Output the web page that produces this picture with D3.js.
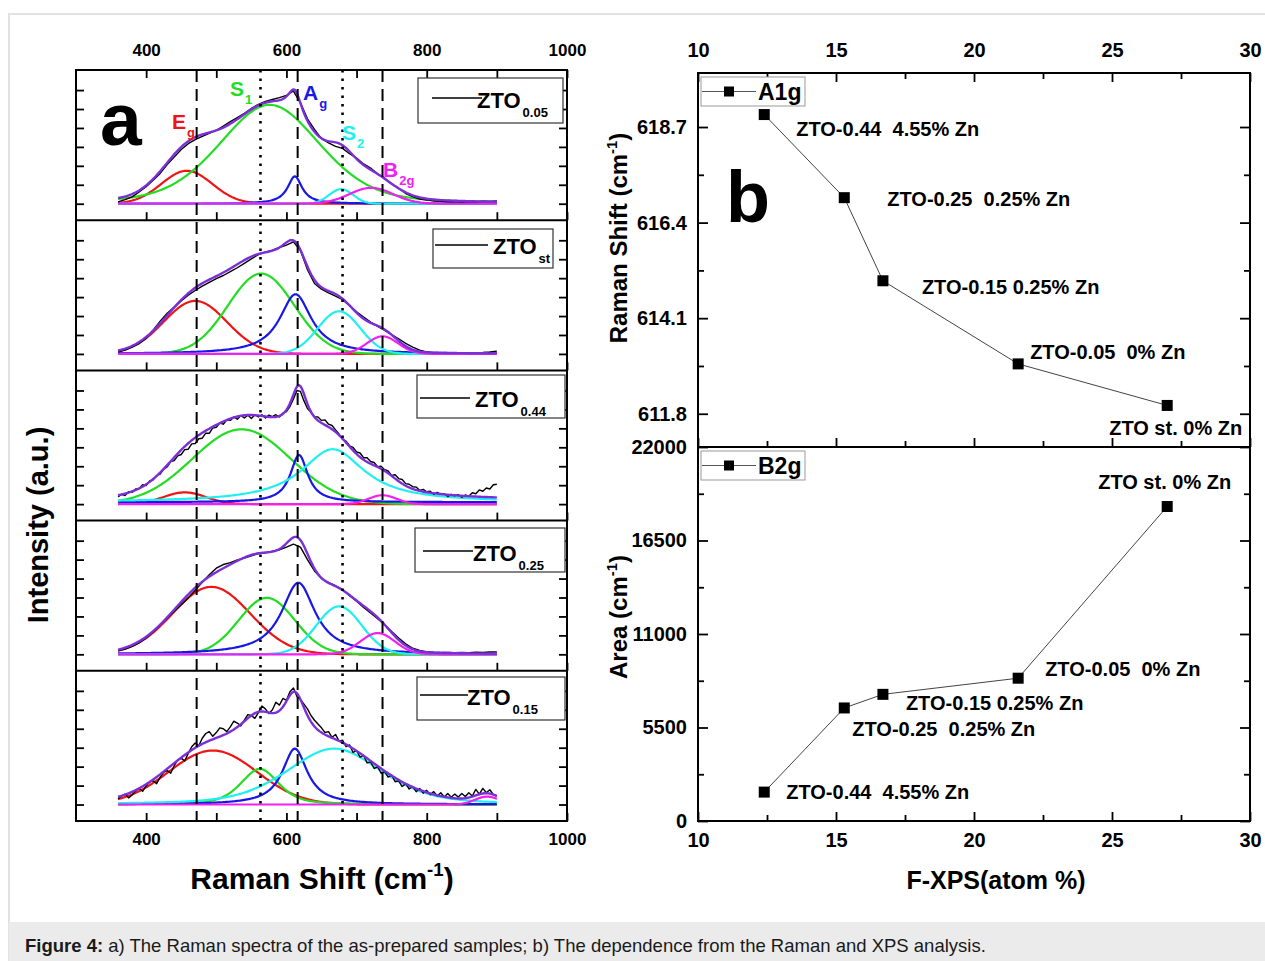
<!DOCTYPE html>
<html>
<head>
<meta charset="utf-8">
<script src="https://cdn.jsdelivr.net/npm/d3@7"></script>
<style>
  html, body { margin: 0; padding: 0; background: #fff; }
  svg { display: block; }
  text { white-space: pre; }
</style>
</head>
<body>
<svg id="fig" width="1265" height="961"></svg>
<script>
// ---------------- Panel a: Raman spectra ----------------
const samples = ["0.05", "st", "0.44", "0.25", "0.15"];
const modeNames = ["E", "S", "A", "S", "B"];
const modeSubs = ["g", "1", "g", "2", "2g"];

// measured spectra from 360 cm-1 (a.u.); sampling step per spectrum in cm-1
const shiftStart = 360;
const spectrumStep = [10, 10, 5, 10, 5];
const spectrum005 = [0.10,0.22,0.36,0.62,0.90,1.24,1.60,2.07,2.46,2.86,3.17,3.38,3.56,3.71,3.88,4.10,4.33,4.55,4.77,5.03,5.25,5.40,5.50,5.60,5.72,5.95,5.33,4.48,3.92,3.44,3.21,3.03,2.92,2.64,2.41,2.10,1.88,1.58,1.35,1.04,0.82,0.54,0.38,0.25,0.20,0.14,0.13,0.10,0.11,0.09,0.12,0.10,0.13,0.12,0.15];
const spectrumSt  = [0.10,0.20,0.36,0.55,0.82,1.25,1.73,2.15,2.47,2.80,3.10,3.35,3.58,3.78,3.98,4.14,4.34,4.55,4.78,5.02,5.24,5.37,5.48,5.62,5.74,5.92,5.46,4.45,3.72,3.42,3.22,3.05,2.86,2.55,2.22,1.95,1.68,1.45,1.24,1.02,0.80,0.56,0.36,0.20,0.11,0.07,0.05,0.06,0.04,0.06,0.05,0.07,0.08,0.10,0.15];
const spectrum044 = [0.38,0.52,0.45,0.66,0.62,0.80,0.82,1.02,0.98,1.22,1.28,1.52,1.58,1.85,1.96,2.25,2.30,2.55,2.62,2.88,2.90,3.18,3.20,3.45,3.48,3.75,3.74,4.02,4.05,4.28,4.22,4.45,4.42,4.60,4.48,4.68,4.55,4.70,4.52,4.72,4.60,4.72,4.55,4.70,4.62,4.72,4.60,4.80,4.88,5.15,5.55,6.00,5.95,5.45,5.05,4.85,4.62,4.60,4.42,4.45,4.22,4.15,3.92,3.70,3.42,3.32,3.08,3.00,2.75,2.70,2.45,2.45,2.25,2.20,1.98,2.00,1.82,1.75,1.52,1.55,1.35,1.30,1.08,1.05,0.92,0.90,0.72,0.78,0.65,0.68,0.52,0.62,0.52,0.55,0.40,0.52,0.44,0.50,0.36,0.48,0.42,0.60,0.55,0.75,0.68,0.85,0.80,1.02,1.05];
const spectrum025 = [0.18,0.28,0.42,0.60,0.86,1.18,1.55,1.90,2.28,2.62,2.98,3.38,3.80,4.20,4.55,4.74,4.84,4.98,5.08,5.20,5.32,5.36,5.44,5.52,5.66,5.82,5.66,5.00,4.40,4.00,3.78,3.62,3.42,3.10,2.80,2.48,2.18,1.88,1.56,1.20,0.86,0.55,0.32,0.20,0.13,0.10,0.09,0.10,0.08,0.10,0.09,0.11,0.10,0.12,0.13];
const spectrum015 = [0.30,0.45,0.55,0.35,0.50,0.72,0.85,0.70,0.98,1.20,1.25,1.10,1.45,1.70,1.80,1.65,2.05,2.35,2.45,2.30,2.70,3.05,3.25,3.10,3.50,3.75,3.85,3.60,3.80,4.05,4.00,3.85,4.10,4.40,4.30,4.15,4.45,4.75,4.70,4.55,4.85,5.20,5.05,4.80,5.00,5.40,5.25,5.60,5.50,5.95,6.15,5.70,5.55,5.30,5.05,4.70,4.45,4.25,4.05,3.80,3.85,3.55,3.70,3.35,3.40,3.05,3.15,2.75,2.85,2.50,2.60,2.20,2.25,1.90,2.00,1.65,1.75,1.45,1.55,1.20,1.25,0.95,1.10,0.82,0.95,0.68,0.85,0.60,0.75,0.52,0.68,0.45,0.62,0.40,0.58,0.38,0.55,0.40,0.58,0.42,0.62,0.45,0.80,0.55,0.85,0.62,0.78,0.52,0.45];
const spectra = [spectrum005, spectrumSt, spectrum044, spectrum025, spectrum015];

// fitted modes per sample: Eg, S1, Ag, S2, B2g
const peakCenter  = [[458,576,612,678,721],[470,564,613,675,737],[455,536,618,666,737],[493,572,617,675,730],[495,562,612,668,886]];
const peakFwhm    = [[85,170,25,40,73],[106,111,55,71,52],[71,165,30,110,47],[130,94,58,76,58],[148,64,43,160,40]];
const peakHeight  = [[1.74,5.22,1.45,0.77,0.84],[2.8,4.24,3.15,2.25,0.93],[0.62,3.95,2.5,2.8,0.47],[3.56,2.98,3.78,2.53,1.12],[2.85,1.88,2.95,2.95,0.42]];
const peakLorentz = [[0,0.3,1,0,0],[0,0,1,0,0],[0,0,1,1,0],[0,0,1,0,0],[0,0.5,1,0.4,0]];
const peakOffset  = [[0,0,0,0,0],[0,0,0,0,0],[0,0,0.1,0.1,0],[0,0,0,0,0],[0,0,0,0,0]];

const refLines = [472, 563, 616, 680, 737];
const refLineKind = ["dash", "dot", "dash", "dot", "dash"];
const ramanTickValues = [400, 500, 600, 700, 800, 900, 1000];
const intensityTicks = [0, 1, 2, 3, 4, 5, 6];

// ---------------- Panel b: Raman vs XPS ----------------
const fxps = [12.4, 15.3, 16.7, 21.6, 27.0];
const a1gShift = [619.0, 617.0, 615.0, 613.0, 612.0];
const b2gArea = [1700, 6650, 7450, 8400, 18500];
const pointLabels = ["ZTO-0.44  4.55% Zn", "ZTO-0.25  0.25% Zn", "ZTO-0.15 0.25% Zn", "ZTO-0.05  0% Zn", "ZTO st. 0% Zn"];
const fxpsMajor = [10, 15, 20, 25, 30];
const fxpsMinor = [12.5, 17.5, 22.5, 27.5];
const shiftMajor = [611.8, 614.1, 616.4, 618.7];
const shiftMinor = [612.95, 615.25, 617.55];
const areaMajor = [0, 5500, 11000, 16500, 22000];
const areaMinor = [2750, 8250, 13750, 19250];

// ---------------- drawing ----------------
const FONT = "'Liberation Sans', Arial, Helvetica, sans-serif";
const W = 1265, H = 961;
const svg = d3.select("#fig").attr("font-family", FONT);

svg.append("rect").attr("width", W).attr("height", H).attr("fill", "#fff");
svg.append("rect").attr("x", 9).attr("y", 14).attr("width", W).attr("height", H)
  .attr("fill", "none").attr("stroke", "#e2e2e2").attr("stroke-width", 2);
svg.append("rect").attr("x", 9).attr("y", 922).attr("width", W - 9).attr("height", H - 922).attr("fill", "#ebebeb");
const cap = svg.append("text").attr("x", 25).attr("y", 952).attr("font-size", 18.5).attr("fill", "#1a1a1a");
cap.append("tspan").attr("font-weight", "bold").text("Figure 4:");
cap.append("tspan").text(" a) The Raman spectra of the as-prepared samples; b) The dependence from the Raman and XPS analysis.");

function styleAxis(g, size) {
  g.attr("font-family", FONT).attr("font-size", size).attr("font-weight", "bold").attr("color", "#000");
  g.select(".domain").remove();
  g.selectAll(".tick line").attr("stroke-width", 1.8);
  g.selectAll(".tick text").attr("fill", "#000");
}

function peakValue(x, c, w, h, eta, off) {
  const d = (x - c) / w;
  const gauss = Math.exp(-4 * Math.LN2 * d * d);
  const lor = 1 / (1 + 4 * d * d);
  return off + h * ((1 - eta) * gauss + eta * lor);
}

const modeColors = ["#f01414", "#22dd22", "#1818e6", "#1ef0f0", "#f020f0"];
const fitColor = "#7b2fd6";

const xA = d3.scaleLinear().domain([300, 1000]).range([76, 567]);
const panelTop0 = 70, panelH = 150.2;
const nPanels = spectra.length;
const aBottom = panelTop0 + nPanels * panelH;
const gA = svg.append("g");
const fitGrid = d3.range(shiftStart, 901, 2);

spectra.forEach((spec, i) => {
  const top = panelTop0 + i * panelH, bottom = top + panelH;
  const y = d3.scaleLinear().domain([-0.87, 7.06]).range([bottom, top]);
  const g = gA.append("g");
  const line = d3.line().x(d => xA(d[0])).y(d => y(d[1]));

  const comps = peakCenter[i].map((c, k) =>
    fitGrid.map(x => [x, peakValue(x, c, peakFwhm[i][k], peakHeight[i][k], peakLorentz[i][k], peakOffset[i][k])]));
  comps.forEach((pts, k) => {
    g.append("path").attr("d", line(pts)).attr("fill", "none")
      .attr("stroke", modeColors[k]).attr("stroke-width", 2.2).attr("stroke-linejoin", "round");
  });

  const measured = spec.map((v, j) => [shiftStart + j * spectrumStep[i], v]);
  g.append("path").attr("d", line(measured)).attr("fill", "none")
    .attr("stroke", "#000").attr("stroke-width", 1.4).attr("stroke-linejoin", "round");

  const fit = fitGrid.map((x, j) => [x, d3.sum(comps, c => c[j][1])]);
  g.append("path").attr("d", line(fit)).attr("fill", "none")
    .attr("stroke", fitColor).attr("stroke-width", 2.4).attr("stroke-linejoin", "round");

  // ticks: bottom edge (inward), left/right edges (inward)
  const bAxis = g.append("g").attr("transform", `translate(0,${bottom})`)
    .call(d3.axisBottom(xA).tickValues(ramanTickValues).tickSize(-8).tickSizeOuter(0).tickPadding(12)
      .tickFormat(i === nPanels - 1 ? (d => d % 200 === 0 ? d : "") : () => ""));
  styleAxis(bAxis, 17);
  if (i === 0) {
    const tAxis = g.append("g").attr("transform", `translate(0,${top})`)
      .call(d3.axisTop(xA).tickValues(ramanTickValues).tickSize(-8).tickSizeOuter(0).tickPadding(14)
        .tickFormat(d => d % 200 === 0 ? d : ""));
    styleAxis(tAxis, 17);
  }
  const lAxis = g.append("g").attr("transform", `translate(${xA.range()[0]},0)`)
    .call(d3.axisLeft(y).tickValues(intensityTicks).tickSize(-8).tickSizeOuter(0).tickFormat(() => ""));
  styleAxis(lAxis, 10);
  const rAxis = g.append("g").attr("transform", `translate(${xA.range()[1]},0)`)
    .call(d3.axisRight(y).tickValues(intensityTicks).tickSize(-8).tickSizeOuter(0).tickFormat(() => ""));
  styleAxis(rAxis, 10);

  if (i > 0) {
    gA.append("line").attr("x1", xA.range()[0]).attr("x2", xA.range()[1])
      .attr("y1", top).attr("y2", top).attr("stroke", "#000").attr("stroke-width", 2);
  }
});

// reference positions of the modes, across all spectra
refLines.forEach((v, k) => {
  gA.append("line").attr("x1", xA(v)).attr("x2", xA(v)).attr("y1", panelTop0).attr("y2", aBottom)
    .attr("stroke", "#000").attr("stroke-width", refLineKind[k] === "dash" ? 2 : 2.6)
    .attr("stroke-dasharray", refLineKind[k] === "dash" ? "12,7" : "2.5,6");
});

gA.append("rect").attr("x", xA.range()[0]).attr("y", panelTop0)
  .attr("width", xA.range()[1] - xA.range()[0]).attr("height", aBottom - panelTop0)
  .attr("fill", "none").attr("stroke", "#000").attr("stroke-width", 2);

// sample legends
const legendLayout = [
  { x: 418, y: 78, w: 145, h: 45, lx1: 432, lx2: 482, ly: 98, tx: 477, ty: 108 },
  { x: 433, y: 229, w: 120, h: 39, lx1: 435, lx2: 488, ly: 245, tx: 493, ty: 254 },
  { x: 417, y: 375, w: 148, h: 43, lx1: 420, lx2: 470, ly: 398, tx: 475, ty: 407 },
  { x: 415, y: 528, w: 150, h: 44, lx1: 423, lx2: 473, ly: 551, tx: 473, ty: 561 },
  { x: 417, y: 677, w: 148, h: 43, lx1: 420, lx2: 468, ly: 695, tx: 467, ty: 705 }
];
samples.forEach((s, i) => {
  const L = legendLayout[i];
  gA.append("rect").attr("x", L.x).attr("y", L.y).attr("width", L.w).attr("height", L.h)
    .attr("fill", "#fff").attr("stroke", "#333").attr("stroke-width", 1.2);
  gA.append("line").attr("x1", L.lx1).attr("x2", L.lx2).attr("y1", L.ly).attr("y2", L.ly)
    .attr("stroke", "#000").attr("stroke-width", 1.6);
  const t = gA.append("text").attr("x", L.tx).attr("y", L.ty).attr("font-weight", "bold").attr("font-size", 22);
  t.append("tspan").text("ZTO");
  t.append("tspan").attr("font-size", 13).attr("dx", 2).attr("dy", 9).text(s);
});

// mode labels on the top spectrum
const modeLabelPos = [[172, 129], [230, 96], [303, 100], [342, 140], [383, 177]];
modeNames.forEach((m, k) => {
  const t = gA.append("text").attr("x", modeLabelPos[k][0]).attr("y", modeLabelPos[k][1])
    .attr("font-weight", "bold").attr("font-size", 21).attr("fill", modeColors[k]);
  t.append("tspan").text(m);
  t.append("tspan").attr("font-size", 13).attr("dx", 1).attr("dy", 8).text(modeSubs[k]);
});

gA.append("text").attr("x", 100).attr("y", 145).attr("font-weight", "bold").attr("font-size", 75).text("a");

gA.append("text").attr("transform", "translate(38,525) rotate(-90)").attr("text-anchor", "middle")
  .attr("dy", "0.35em").attr("font-weight", "bold").attr("font-size", 29).text("Intensity (a.u.)");

function supTitle(t, main, sup, tail, size) {
  t.append("tspan").text(main);
  t.append("tspan").attr("font-size", size * 0.62).attr("dy", -size * 0.42).text(sup);
  t.append("tspan").attr("dy", size * 0.42).text(tail);
}
supTitle(gA.append("text").attr("x", 322).attr("y", 889).attr("text-anchor", "middle")
  .attr("font-weight", "bold").attr("font-size", 30), "Raman Shift (cm", "-1", ")", 30);

// ---------------- Panel b ----------------
const gB = svg.append("g");
const xB = d3.scaleLinear().domain([10, 30]).range([698, 1250]);
const yShift = d3.scaleLinear().domain([611, 620]).range([447, 73]);
const yArea = d3.scaleLinear().domain([0, 22000]).range([821, 447]);

function xTicks(yPos, orient, major, labels, pad) {
  const maj = gB.append("g").attr("transform", `translate(0,${yPos})`)
    .call((orient === "top" ? d3.axisTop(xB) : d3.axisBottom(xB)).tickValues(fxpsMajor)
      .tickSize(major).tickSizeOuter(0).tickPadding(pad).tickFormat(labels ? d3.format("d") : () => ""));
  styleAxis(maj, 20);
  const min = gB.append("g").attr("transform", `translate(0,${yPos})`)
    .call((orient === "top" ? d3.axisTop(xB) : d3.axisBottom(xB)).tickValues(fxpsMinor)
      .tickSize(-6).tickSizeOuter(0).tickFormat(() => ""));
  styleAxis(min, 10);
}
function yTicks(scale, majorVals, minorVals, fmt) {
  const l = gB.append("g").attr("transform", `translate(${xB.range()[0]},0)`)
    .call(d3.axisLeft(scale).tickValues(majorVals).tickSize(-10).tickSizeOuter(0).tickPadding(11).tickFormat(fmt));
  styleAxis(l, 20);
  const lm = gB.append("g").attr("transform", `translate(${xB.range()[0]},0)`)
    .call(d3.axisLeft(scale).tickValues(minorVals).tickSize(-6).tickSizeOuter(0).tickFormat(() => ""));
  styleAxis(lm, 10);
  const r = gB.append("g").attr("transform", `translate(${xB.range()[1]},0)`)
    .call(d3.axisRight(scale).tickValues(majorVals).tickSize(-10).tickSizeOuter(0).tickFormat(() => ""));
  styleAxis(r, 10);
  const rm = gB.append("g").attr("transform", `translate(${xB.range()[1]},0)`)
    .call(d3.axisRight(scale).tickValues(minorVals).tickSize(-6).tickSizeOuter(0).tickFormat(() => ""));
  styleAxis(rm, 10);
}

xTicks(yShift.range()[1], "top", -9, true, 16);
xTicks(yShift.range()[0], "bottom", -9, false, 0);
xTicks(yArea.range()[0], "bottom", -9, true, 12);
yTicks(yShift, shiftMajor, shiftMinor, d3.format(".1f"));
yTicks(yArea, areaMajor, areaMinor, d3.format("d"));

[[yShift, a1gShift], [yArea, b2gArea]].forEach(([ys, vals]) => {
  const pts = fxps.map((x, i) => [xB(x), ys(vals[i])]);
  gB.append("path").attr("d", d3.line()(pts)).attr("fill", "none").attr("stroke", "#444").attr("stroke-width", 1);
  gB.selectAll(null).data(pts).enter().append("rect")
    .attr("x", d => d[0] - 5.5).attr("y", d => d[1] - 5.5).attr("width", 11).attr("height", 11).attr("fill", "#000");
});

const a1gLabelOffset = [[32, 21], [43, 8], [39, 13], [12, -5], [-58, 30]];
const b2gLabelOffset = [[22, 7], [8, 28], [23, 16], [27, -2], [-69, -18]];
pointLabels.forEach((lab, i) => {
  gB.append("text").attr("x", xB(fxps[i]) + a1gLabelOffset[i][0]).attr("y", yShift(a1gShift[i]) + a1gLabelOffset[i][1])
    .attr("font-weight", "bold").attr("font-size", 20).text(lab);
  gB.append("text").attr("x", xB(fxps[i]) + b2gLabelOffset[i][0]).attr("y", yArea(b2gArea[i]) + b2gLabelOffset[i][1])
    .attr("font-weight", "bold").attr("font-size", 20).text(lab);
});

// series legends
[["A1g", 77], ["B2g", 451]].forEach(([name, y0]) => {
  gB.append("rect").attr("x", 701).attr("y", y0).attr("width", 104).attr("height", 29)
    .attr("fill", "#fff").attr("stroke", "#999").attr("stroke-width", 1);
  gB.append("line").attr("x1", 702).attr("x2", 756).attr("y1", y0 + 14.5).attr("y2", y0 + 14.5)
    .attr("stroke", "#555").attr("stroke-width", 1);
  gB.append("rect").attr("x", 724).attr("y", y0 + 9.5).attr("width", 10).attr("height", 10).attr("fill", "#000");
  gB.append("text").attr("x", 758).attr("y", y0 + 23).attr("font-weight", "bold").attr("font-size", 23).text(name);
});

// frames
gB.append("rect").attr("x", xB.range()[0]).attr("y", yShift.range()[1])
  .attr("width", xB.range()[1] - xB.range()[0]).attr("height", yArea.range()[0] - yShift.range()[1])
  .attr("fill", "none").attr("stroke", "#000").attr("stroke-width", 2);
gB.append("line").attr("x1", xB.range()[0]).attr("x2", xB.range()[1])
  .attr("y1", yShift.range()[0]).attr("y2", yShift.range()[0]).attr("stroke", "#000").attr("stroke-width", 2);

gB.append("text").attr("x", 726).attr("y", 222).attr("font-weight", "bold").attr("font-size", 72).text("b");

supTitle(gB.append("text").attr("transform", "translate(627,238) rotate(-90)").attr("text-anchor", "middle")
  .attr("font-weight", "bold").attr("font-size", 24), "Raman Shift (cm", "-1", ")", 24);
supTitle(gB.append("text").attr("transform", "translate(627,617) rotate(-90)").attr("text-anchor", "middle")
  .attr("font-weight", "bold").attr("font-size", 24), "Area (cm", "-1", ")", 24);
gB.append("text").attr("x", 996).attr("y", 889).attr("text-anchor", "middle")
  .attr("font-weight", "bold").attr("font-size", 25).text("F-XPS(atom %)");
</script>
</body>
</html>
